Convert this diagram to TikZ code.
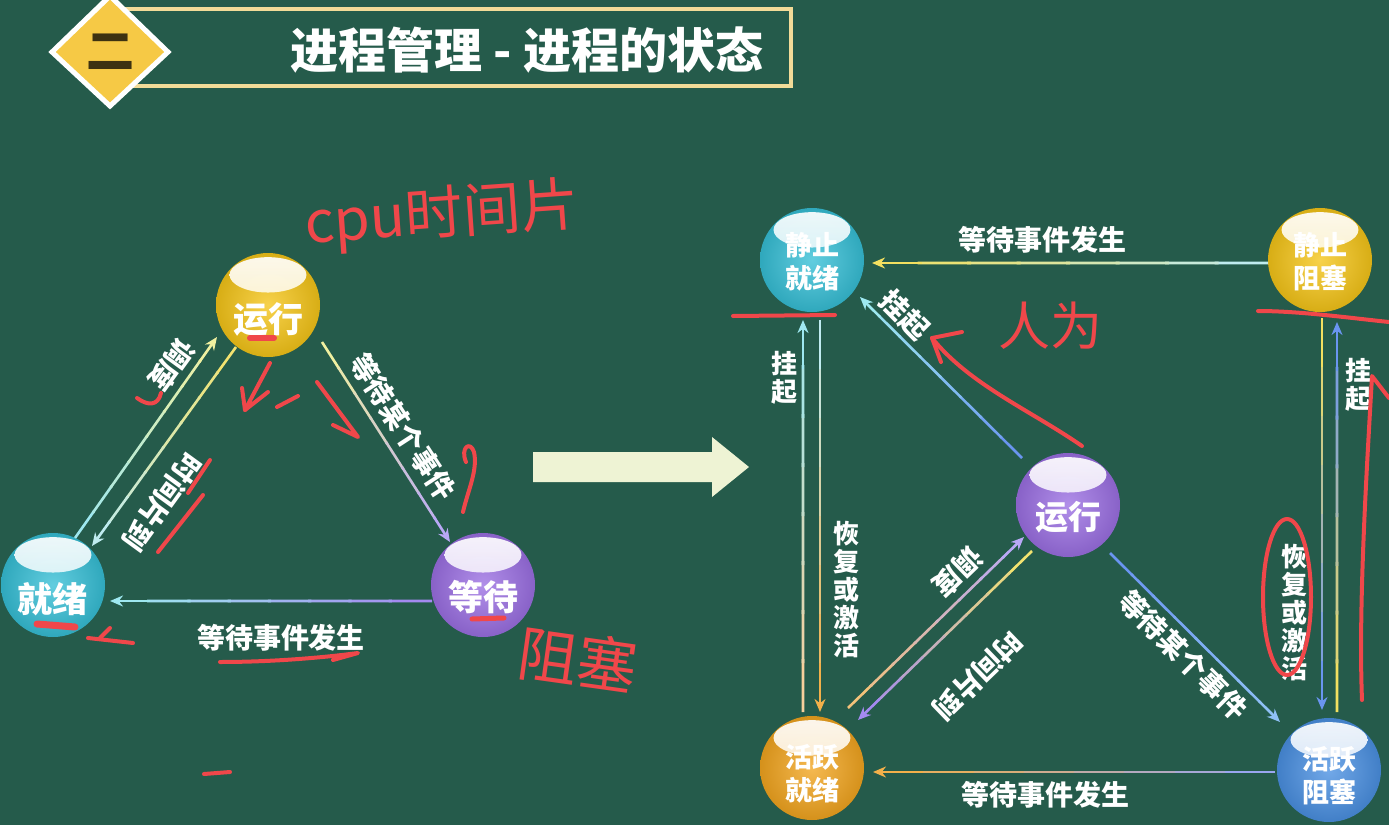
\documentclass[tikz,border=0pt]{standalone}
\usepackage{fontspec}
\newfontfamily\cjk{Noto Sans CJK SC}
\usetikzlibrary{calc,arrows.meta}
\definecolor{bg}{HTML}{255B4B}
\definecolor{redink}{HTML}{F0474A}
\definecolor{frame}{HTML}{F2DB98}
\definecolor{dia}{HTML}{F6C945}
\definecolor{bigar}{HTML}{EEF3D4}
\definecolor{bY}{HTML}{F5C518}
\definecolor{bC}{HTML}{36BFD6}
\definecolor{bP}{HTML}{9B6FE3}
\definecolor{bO}{HTML}{F2A51F}
\definecolor{bB}{HTML}{4A90E2}
\definecolor{kCyan}{HTML}{9EE8F0}
\definecolor{kPaleY}{HTML}{F0F0A0}
\definecolor{kYel}{HTML}{F3E370}
\definecolor{kLCyan}{HTML}{C0ECF0}
\definecolor{kLav}{HTML}{B9A8F6}
\definecolor{kPur}{HTML}{A48AF0}
\definecolor{kBlue}{HTML}{6A95F0}
\definecolor{kLBlue}{HTML}{8FC0F5}
\definecolor{kPeach}{HTML}{F7CF9C}
\definecolor{kOra}{HTML}{F3B04A}
\definecolor{kOraL}{HTML}{F3C27A}
\definecolor{kGold}{HTML}{F3E060}
\definecolor{kBlueLav}{HTML}{9AA6F0}
\newcommand\gradconn[4]{%
  \foreach \gi in {0,...,6}{%
    \pgfmathsetmacro\gta{\gi/8}%
    \pgfmathsetmacro\gtb{(\gi+1)/8+0.01}%
    \pgfmathtruncatemacro\gpc{100-\gi*100/7}%
    \draw[conn,draw=#3!\gpc!#4] ($(#1)!\gta!(#2)$) -- ($(#1)!\gtb!(#2)$);
  }%
  \draw[conn,draw=#4,fill=#4,headend] ($(#1)!0.875!(#2)$) -- (#2);
}
\begin{document}
\begin{tikzpicture}[x=0.5pt,y=-0.5pt,
  conn/.style={line width=1.3pt},
  headend/.style={-{Stealth[length=6.5pt,width=5.5pt]}},
  lbl/.style={text=white,inner sep=0pt,font=\cjk\bfseries\fontsize{14pt}{14pt}\selectfont},
  vlbl/.style={text=white,inner sep=0pt,align=center,font=\cjk\bfseries\fontsize{13pt}{14pt}\selectfont},
  ink/.style={draw=redink,line width=2pt,line cap=round,line join=round},
  inktext/.style={text=redink,inner sep=0pt},
  ball/.style 2 args={circle,inner sep=0pt,minimum size=#2,inner color=#1!78!white,outer color=#1!88!black,
    path picture={\shade[top color=white,bottom color=#1!30!white,opacity=0.92]([yshift=-0.21*#2]path picture bounding box.north) ellipse [x radius=0.37*#2,y radius=0.17*#2];}},
  btext/.style={text=white,inner sep=0pt,font=\cjk\bfseries\fontsize{17.5pt}{18pt}\selectfont},
  btexttwo/.style={text=white,inner sep=0pt,align=center,font=\cjk\bfseries\fontsize{13.5pt}{16.5pt}\selectfont},
]
\fill[bg] (0,0) rectangle (1389,825);
\useasboundingbox (0,0) rectangle (1389,825);

% ---------- title ----------
\draw[frame,line width=1.6pt] (125,9) rectangle (791,86);
\filldraw[fill=dia,draw=white,line width=2.5pt,line join=miter] (110,-4) -- (168,52) -- (110,106) -- (52,52) -- cycle;
\node[text=black!75!dia,font=\cjk\bfseries\fontsize{24pt}{24pt}\selectfont] (num) at (110,52) {二};
\node[text=white,font=\cjk\bfseries\fontsize{24pt}{24pt}\selectfont] (title) at (527,50) {进程管理 - 进程的状态};

% ---------- left diagram ----------
\node[ball={bY}{52pt},label={[btext,yshift=-7pt]center:运行}] (yx1) at (268,305) {};
\node[ball={bC}{52pt},label={[btext,yshift=-7pt]center:就绪}] (jx1) at (53,585) {};
\node[ball={bP}{52pt},label={[btext,yshift=-6pt]center:等待}] (dd1) at (483,585) {};

\coordinate (l1a) at ($(jx1)+(22,-47)$);
\coordinate (l1b) at ($(yx1)+(-51,32)$);
\coordinate (l2a) at ($(yx1)+(-32,42)$);
\coordinate (l2b) at ($(jx1)+(39,-39)$);
\coordinate (l3a) at ($(yx1)+(54,37)$);
\coordinate (l3b) at ($(dd1)+(-33,-43)$);
\coordinate (l4a) at ($(dd1)+(-51,16)$);
\coordinate (l4b) at ($(jx1)+(57,16)$);
\gradconn{l1a}{l1b}{kCyan}{kPaleY}
\gradconn{l2a}{l2b}{kYel}{kLCyan}
\gradconn{l3a}{l3b}{kPaleY}{kLav}
\gradconn{l4a}{l4b}{kPur}{kCyan}

\node[lbl,rotate=234] (t1) at (172,365) {调度};
\node[lbl,rotate=234] (t2) at (162,502) {时间片到};
\node[lbl,rotate=-57] (t3) at (403,427) {等待某个事件};
\node[lbl] (t4) at (281,638) {等待事件发生};

% ---------- big arrow ----------
\fill[bigar] (533,452) -- (712,452) -- (712,437) -- (749,467) -- (712,497) -- (712,482) -- (533,482) -- cycle;

% ---------- right diagram ----------
\node[ball={bC}{52pt},label={[btexttwo,yshift=-1pt]center:静止\\就绪}] (jj) at (812,260) {};
\node[ball={bY}{52pt},label={[btexttwo,yshift=-1pt]center:静止\\阻塞}] (jz) at (1320,260) {};
\node[ball={bP}{52pt},label={[btext,yshift=-6pt,font=\cjk\bfseries\fontsize{16.5pt}{17pt}\selectfont]center:运行}] (yx2) at (1068,505) {};
\node[ball={bO}{52pt},label={[btexttwo,yshift=-3pt]center:活跃\\就绪}] (hj) at (812,768) {};
\node[ball={bB}{52pt},label={[btexttwo,yshift=-3pt]center:活跃\\阻塞}] (hz) at (1329,770) {};

\coordinate (r1a) at ($(jz)+(-52,3)$);
\coordinate (r1b) at ($(jj)+(60,3)$);
\coordinate (r2a) at ($(yx2)+(-46,-47)$);
\coordinate (r2b) at ($(jj)+(48,37)$);
\coordinate (r3a) at ($(hj)+(-9,-56)$);
\coordinate (r3b) at ($(jj)+(-9,60)$);
\coordinate (r4a) at ($(jj)+(8,60)$);
\coordinate (r4b) at ($(hj)+(8,-56)$);
\coordinate (r5a) at ($(hj)+(36,-60)$);
\coordinate (r5b) at ($(yx2)+(-44,32)$);
\coordinate (r6a) at ($(yx2)+(-36,46)$);
\coordinate (r6b) at ($(hj)+(46,-48)$);
\coordinate (r7a) at ($(yx2)+(42,48)$);
\coordinate (r7b) at ($(hz)+(-49,-48)$);
\coordinate (r8a) at ($(hz)+(-54,2)$);
\coordinate (r8b) at ($(hj)+(61,4)$);
\coordinate (r9a) at ($(jz)+(2,58)$);
\coordinate (r9b) at ($(hz)+(-7,-60)$);
\coordinate (r10a) at ($(hz)+(8,-58)$);
\coordinate (r10b) at ($(jz)+(17,62)$);
\gradconn{r1a}{r1b}{kLCyan}{kGold}
\gradconn{r2a}{r2b}{kBlue}{kCyan}
\gradconn{r3a}{r3b}{kPeach}{kCyan}
\gradconn{r4a}{r4b}{kLCyan}{kOra}
\gradconn{r5a}{r5b}{kOraL}{kLav}
\gradconn{r6a}{r6b}{kYel}{kPur}
\gradconn{r7a}{r7b}{kBlue}{kLBlue}
\gradconn{r8a}{r8b}{kBlueLav}{kOra}
\gradconn{r9a}{r9b}{kGold}{kBlue}
\gradconn{r10a}{r10b}{kGold}{kBlue}

\node[lbl] (s1) at (1042,240) {等待事件发生};
\node[lbl,rotate=-45] (s2) at (905,315) {挂起};
\node[vlbl] (s3) at (784,378) {挂\\起};
\node[vlbl] (s4) at (846,590) {恢\\复\\或\\激\\活};
\node[lbl,rotate=224] (s5) at (958,572) {调度};
\node[lbl,rotate=224] (s6) at (978,676) {时间片到};
\node[lbl,rotate=-45] (s7) at (1183,655) {等待某个事件};
\node[lbl] (s8) at (1045,795) {等待事件发生};
\node[vlbl] (s9) at (1358,385) {挂\\起};
\node[vlbl] (s10) at (1294,613) {恢\\复\\或\\激\\活};

% ---------- red handwriting ----------
\node[inktext,font=\cjk\fontsize{29pt}{29pt}\selectfont,rotate=4] (hw1) at (442,216) {cpu时间片};
\node[inktext,font=\cjk\fontsize{26pt}{26pt}\selectfont] (hw2) at (1050,326) {人为};
\node[inktext,font=\cjk\fontsize{30pt}{30pt}\selectfont,rotate=-8] (hw3) at (578,660) {阻塞};

\draw[ink,line width=3pt] (250,338) -- (274,338);
\draw[ink] (137,398) .. controls (148,406) and (158,406) .. (161,393);
\draw[ink] (270,363) -- (245,410) -- (268,392);
\draw[ink] (242,388) -- (245,410);
\draw[ink] (277,407) -- (298,396);
\draw[ink] (317,382) -- (358,437) -- (333,425);
\draw[ink] (463,512) .. controls (468,490) and (478,470) .. (474,452) .. controls (470,440) and (460,448) .. (466,462);
\draw[ink] (188,493) -- (210,460);
\draw[ink] (158,552) -- (203,495);
\draw[ink,line width=3.5pt] (37,624) -- (75,627);
\draw[ink] (88,638) -- (133,643);
\draw[ink] (110,628) -- (100,638);
\draw[ink,line width=2.5pt] (472,619) -- (504,618);
\draw[ink] (220,662) .. controls (270,662) and (320,658) .. (358,653) -- (333,660);
\draw[ink] (204,774) -- (230,772);

\draw[ink] (733,316) -- (835,315);
\draw[ink] (1258,311) .. controls (1300,311) and (1350,318) .. (1389,322);
\draw[ink] (1082,446) .. controls (1030,410) and (970,385) .. (932,338);
\draw[ink] (962,332) -- (932,338) -- (941,362);
\draw[ink] (1389,398) -- (1372,376) .. controls (1368,450) and (1358,600) .. (1362,700);
\draw[ink] (1287,597) ellipse [x radius=24, y radius=78];
\end{tikzpicture}
\end{document}
